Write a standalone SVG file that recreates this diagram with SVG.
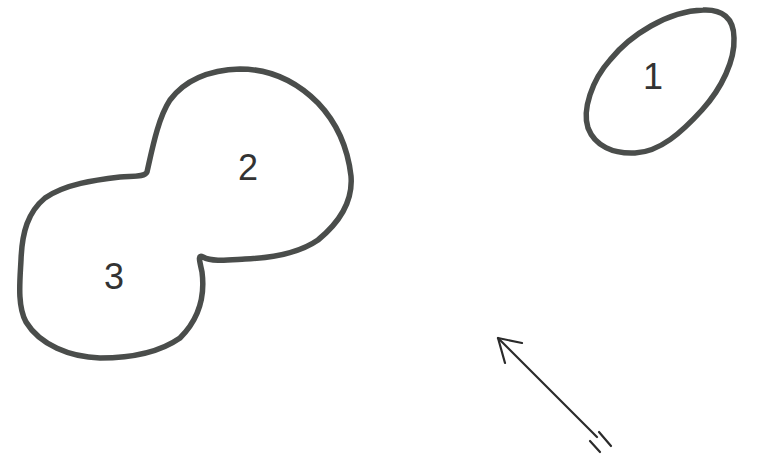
<svg xmlns="http://www.w3.org/2000/svg" width="758" height="459" viewBox="0 0 758 459">
<style>
.outline{fill:none;stroke:#4a4d4b;stroke-width:5.5;stroke-linejoin:round;stroke-linecap:round}
.lbl{font-family:"Liberation Sans",Arial,sans-serif;font-size:36px;fill:#333;text-anchor:middle}
.arr{fill:none;stroke:#2a2a2a;stroke-width:2.2;stroke-linecap:round;stroke-linejoin:round}
</style>
<rect width="758" height="459" fill="#fff"/>
<g id="node1">
<path class="outline" d="M703,10 C722,9 734,18 734,38 C735,60 722,88 702,110 C682,132 660,152 635,153 C613,154 595,146 588,128 C582,110 592,80 610,60 C630,35 668,11 703,10 Z"/>
<text class="lbl" x="653" y="89">1</text>
</g>
<g id="node23">
<path class="outline" d="M147,172 C152,150 158,118 170,100 C185,80 210,70 240,69 C268,69 295,80 318,103 C338,124 348,150 351,176 C353,200 340,222 318,240 C298,254 270,258 245,259 C228,260 212,262 203,257 C197,254 200,262 202,272 C205,295 200,318 180,338 C160,352 130,358 100,358 C70,357 40,345 26,322 C17,305 20,280 21,260 C22,232 28,212 45,198 C65,184 95,180 120,177 C135,176 145,177 147,172 Z"/>
<text class="lbl" x="248" y="180">2</text>
<text class="lbl" x="114" y="289">3</text>
</g>
<g id="connectors">
<path class="arr" d="M597,437 L498,338"/>
<path class="arr" d="M522,343 L498,338 L505,363"/>
<path class="arr" d="M590,441 L600,452"/>
<path class="arr" d="M599,432 L611,446"/>
</g>
</svg>
